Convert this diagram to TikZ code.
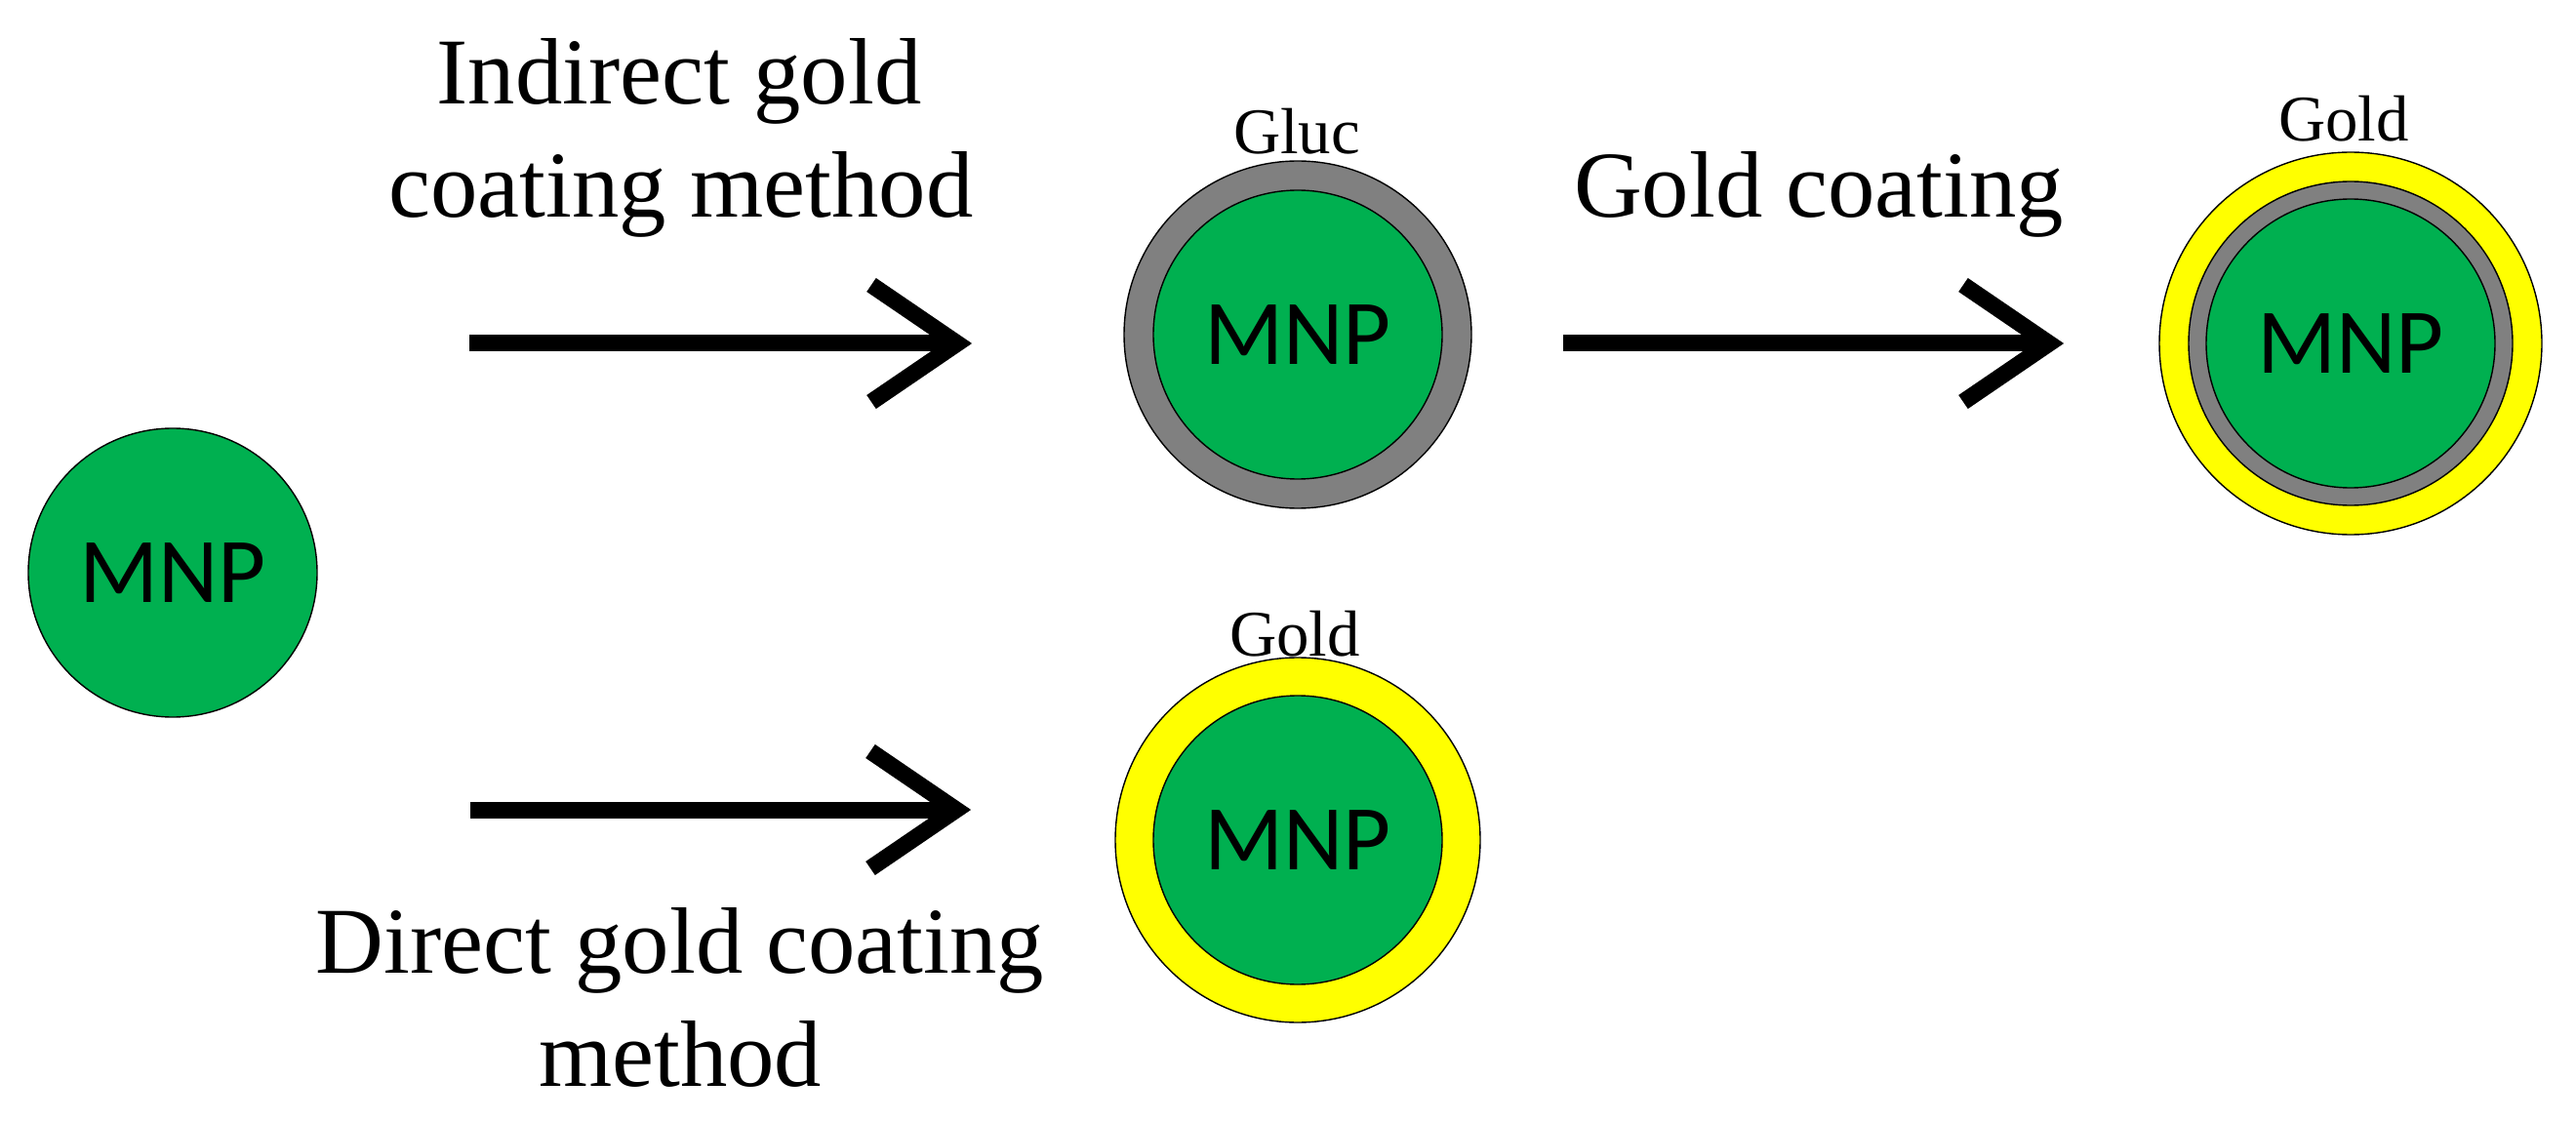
\documentclass[tikz,border=0pt]{standalone}
\usepackage{fontspec}
\setmainfont{Liberation Serif}
\newfontfamily\mnpfont{Carlito}
\definecolor{mnpgreen}{HTML}{00B050}
\definecolor{glucgrey}{HTML}{808080}
\definecolor{goldyellow}{HTML}{FFFF00}
\begin{document}
\begin{tikzpicture}[
  core/.style={circle, inner sep=0pt, minimum size=2.96cm, fill=mnpgreen, draw=black, line width=0.4pt, font=\mnpfont\fontsize{27}{32}\selectfont},
  shell/.style={circle, inner sep=0pt, draw=black, line width=0.4pt},
  lbl/.style={font=\fontsize{27.5}{33}\selectfont, anchor=base, inner sep=0pt},
  small/.style={font=\fontsize{19}{23}\selectfont, anchor=base, inner sep=0pt},
  shaft/.style={line width=0.17cm, line cap=butt},
  barb/.style={line width=0.17cm, line cap=butt, line join=miter, miter limit=10}
]
\useasboundingbox (0,0) rectangle (26.4,-11.49);

% bare MNP
\node[core] (m0) at (1.77,-5.87) {MNP};

% glucose-coated MNP
\node[shell, fill=glucgrey, minimum size=3.56cm] (g1) at (13.30,-3.43) {};
\node[core] (m1) at (13.30,-3.43) {MNP};
\node[small] (gluc) at (13.29,-1.58) {Gluc};

% gold over glucose
\node[shell, fill=goldyellow, minimum size=3.92cm] (y2) at (24.09,-3.52) {};
\node[shell, fill=glucgrey, minimum size=3.32cm] (g2) at (24.09,-3.52) {};
\node[core] (m2) at (24.09,-3.52) {MNP};
\node[small] (gold1) at (24.02,-1.45) {Gold};

% direct gold
\node[shell, fill=goldyellow, minimum size=3.74cm] (y3) at (13.30,-8.61) {};
\node[core] (m3) at (13.30,-8.61) {MNP};
\node[small] (gold2) at (13.27,-6.72) {Gold};

% labels
\node[lbl] (ind1) at (6.96,-1.07) {Indirect gold};
\node[lbl] (ind2) at (6.98,-2.23) {coating method};
\node[lbl] (gc) at (18.64,-2.23) {Gold coating};
\node[lbl] (dir1) at (6.97,-9.97) {Direct gold coating};
\node[lbl] (dir2) at (6.97,-11.13) {method};

% arrows
\coordinate (a1s) at (4.81,-3.52);
\coordinate (a1e) at (9.81,-3.52);
\coordinate (a2s) at (16.02,-3.52);
\coordinate (a2e) at (21.00,-3.52);
\coordinate (a3s) at (4.82,-8.30);
\coordinate (a3e) at (9.80,-8.30);

\draw[shaft] (a1s) -- (a1e);
\draw[barb] ([shift={(-0.88,0.60)}]a1e) -- (a1e) -- ([shift={(-0.88,-0.60)}]a1e);
\draw[shaft] (a2s) -- (a2e);
\draw[barb] ([shift={(-0.88,0.60)}]a2e) -- (a2e) -- ([shift={(-0.88,-0.60)}]a2e);
\draw[shaft] (a3s) -- (a3e);
\draw[barb] ([shift={(-0.88,0.60)}]a3e) -- (a3e) -- ([shift={(-0.88,-0.60)}]a3e);
\end{tikzpicture}
\end{document}
